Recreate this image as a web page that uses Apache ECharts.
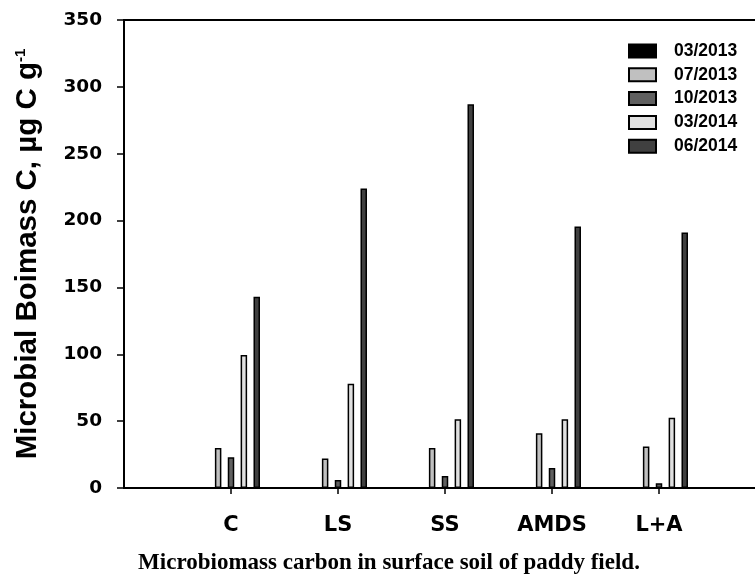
<!DOCTYPE html>
<html>
<head>
<meta charset="utf-8">
<script src="https://cdn.jsdelivr.net/npm/echarts@6/dist/echarts.min.js"></script>
<style>
    html, body {margin: 0; padding: 0; background: #fff;}
    #main {width: 755px; height: 575px;}
</style>
</head>
<body>
<div id="main"></div>
<script>
// treatments along the x axis
const categories = ['C', 'LS', 'SS', 'AMDS', 'L+A'];
const sampleDates = ['03/2013', '07/2013', '10/2013', '03/2014', '06/2014'];

// microbial biomass C, ug C g-1
const mar2013 = [0, 0, 0, 0, 0];
const jul2013 = [30, 22, 30, 41, 31];
const oct2013 = [23, 6, 9, 15, 3.5];
const mar2014 = [99.5, 78, 51.5, 51.5, 52.5];
const jun2014 = [143, 224, 287, 195.5, 191];

const yTicks = [0, 50, 100, 150, 200, 250, 300, 350];

const colors = ['#000000', '#c0c0c0', '#606060', '#e0e0e0', '#404040'];
const allData = [mar2013, jul2013, oct2013, mar2014, jun2014];

const myChart = echarts.init(document.getElementById('main'));

// bars sit on a value axis so the empty slot left of C can be kept
const series = sampleDates.map((name, i) => ({
    name: name,
    type: 'bar',
    barWidth: 6.5,
    barGap: '98%',
    itemStyle: {
        color: colors[i],
        borderColor: '#000',
        borderWidth: 1.5
    },
    data: allData[i].map((v, k) => [k + 1, v])
}));

myChart.setOption({
    animation: false,
    grid: {
        left: 124,
        right: -11,
        top: 20,
        bottom: 87,
        outerBoundsMode: 'none',
        containLabel: false,
        show: true,
        borderColor: '#000',
        borderWidth: 2
    },
    legend: {
        orient: 'vertical',
        left: 623,
        top: 37,
        itemWidth: 27,
        itemHeight: 13,
        itemGap: 5.8,
        icon: 'rect',
        data: sampleDates,
        textStyle: {
            fontFamily: 'Liberation Sans',
            fontWeight: 'bold',
            fontSize: 17.5,
            color: '#000',
            padding: [0, 0, 0, 13]
        }
    },
    xAxis: {
        type: 'value',
        min: 0,
        max: 6,
        interval: 1,
        splitLine: {show: false},
        axisLine: {lineStyle: {color: '#000', width: 2}},
        axisTick: {
            customValues: [1, 2, 3, 4, 5],
            length: 6,
            lineStyle: {color: '#000', width: 1.5}
        },
        axisLabel: {
            customValues: [1, 2, 3, 4, 5],
            formatter: v => categories[v - 1] || '',
            margin: 27,
            fontFamily: 'DejaVu Sans',
            fontWeight: 'bold',
            fontSize: 21,
            color: '#000'
        }
    },
    yAxis: {
        type: 'value',
        min: yTicks[0],
        max: yTicks[yTicks.length - 1],
        interval: 50,
        splitLine: {show: false},
        axisLine: {show: true, lineStyle: {color: '#000', width: 2}},
        axisTick: {show: true, length: 7, lineStyle: {color: '#000', width: 1.5}},
        axisLabel: {
            margin: 22,
            fontFamily: 'DejaVu Sans',
            fontWeight: 'bold',
            fontSize: 18.5,
            color: '#000'
        },
        name: '{a|Microbial Boimass C, µg C g}{b|-1}',
        nameLocation: 'middle',
        nameGap: 81,
        nameRotate: 90,
        nameTextStyle: {
            rich: {
                a: {fontFamily: 'Liberation Sans', fontWeight: 'bold', fontSize: 29.5, color: '#000'},
                b: {fontFamily: 'Liberation Sans', fontWeight: 'bold', fontSize: 15, color: '#000', verticalAlign: 'top'}
            }
        }
    },
    graphic: [{
        type: 'text',
        x: 389,
        y: 563,
        style: {
            text: 'Microbiomass carbon in surface soil of paddy field.',
            font: 'bold 23px "Liberation Serif"',
            fill: '#000',
            align: 'center',
            verticalAlign: 'middle'
        }
    }],
    series: series
});
</script>
</body>
</html>
